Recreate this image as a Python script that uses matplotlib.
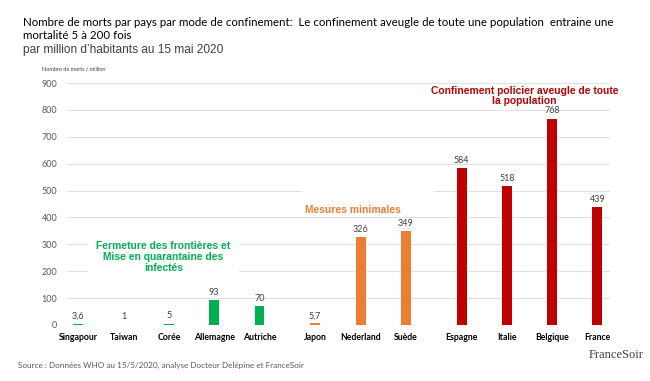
import matplotlib
matplotlib.use("Agg")
import matplotlib.pyplot as plt
from matplotlib.patches import Rectangle

# donnees
pays = ["Singapour", "Taiwan", "Corée", "Allemagne", "Autriche", "Japon",
        "Nederland", "Suède", "Espagne", "Italie", "Belgique", "France"]
morts = [3.6, 1, 5, 93, 70, 5.7, 326, 349, 584, 518, 768, 439]
groupe = [0, 0, 0, 0, 0, 1, 1, 1, 2, 2, 2, 2]
couleurs_groupe = ["#00b050", "#ed7d31", "#c00000"]

plt.rcParams["font.family"] = ["Lato", "DejaVu Sans"]
arial = ["Liberation Sans", "DejaVu Sans"]

fig = plt.figure(figsize=(6.5, 3.81), dpi=100)
ax = fig.add_axes([0.103, 0.147, 0.835, 0.635])

# petit ecart entre les groupes
x = [i + 0.23 * g for i, g in enumerate(groupe)]
cols = [couleurs_groupe[g] for g in groupe]
ax.bar(x, morts, width=0.22, color=cols, zorder=3)

for xi, v in zip(x, morts):
    lab = f"{v:g}".replace(".", ",")
    ax.text(xi, v + 12, lab, ha="center", va="bottom", fontsize=6.5,
            color="#404040")

ax.set_ylim(0, 900)
ax.set_xlim(-0.25, x[-1] + 0.27)
ax.set_yticks(range(0, 901, 100))
ax.yaxis.grid(True, color="#e0e0e0", lw=0.8, zorder=0)
ax.set_axisbelow(True)
for s in ax.spines.values():
    s.set_visible(False)
ax.tick_params(axis="both", length=0)
ax.tick_params(axis="y", labelsize=6.5, labelcolor="#595959", pad=7)
ax.set_xticks(x)
ax.set_xticklabels(pays, fontsize=6.3, fontweight="bold", color="black")
ax.tick_params(axis="x", pad=6)

# trou blanc dans la ligne 500 comme sur l'original
ax.add_patch(Rectangle((4.93, 490), 2.93, 20, fc="white", ec="none", zorder=1))

# textes des groupes
ax.text(1.88, 252, "Fermeture des frontières et\nMise en quarantaine des\ninfectés",
        ha="center", va="center", fontsize=7.4, fontweight="bold", color="#00b050",
        linespacing=1.15, family=arial,
        bbox=dict(fc="white", ec="none", pad=6), zorder=4)
ax.text(6.06, 428, "Mesures minimales", ha="center", va="center", fontsize=7.4,
        fontweight="bold", color="#ed7d31", family=arial,
        bbox=dict(fc="white", ec="none", pad=1), zorder=4)
ax.text(9.85, 852, "Confinement policier aveugle de toute\nla population",
        ha="center", va="center", fontsize=7.4, fontweight="bold", color="#c00000",
        linespacing=1.1, family=arial, zorder=4)

fig.text(0.035, 0.955,
         "Nombre de morts par pays par mode de confinement:  Le confinement aveugle de toute une population  entraine une\nmortalité 5 à 200 fois",
         fontsize=8.3, color="black", va="top", linespacing=1.25)
fig.text(0.035, 0.885, "par million d\u2019habitants au 15 mai 2020",
         fontsize=8.6, color="#404040", va="top", family=arial)
fig.text(0.065, 0.818, "Nombre de morts / million", fontsize=4, color="#404040", va="center")

fig.text(0.028, 0.042, "Source : Données WHO au 15/5/2020, analyse Docteur Delépine et FranceSoir",
         fontsize=5.9, color="#595959", va="center")
fig.text(0.99, 0.068, "FranceSoir", fontsize=9, color="#404040", ha="right", va="center",
         family=["Liberation Serif", "DejaVu Serif"])

fig.savefig("out.png", dpi=100)
